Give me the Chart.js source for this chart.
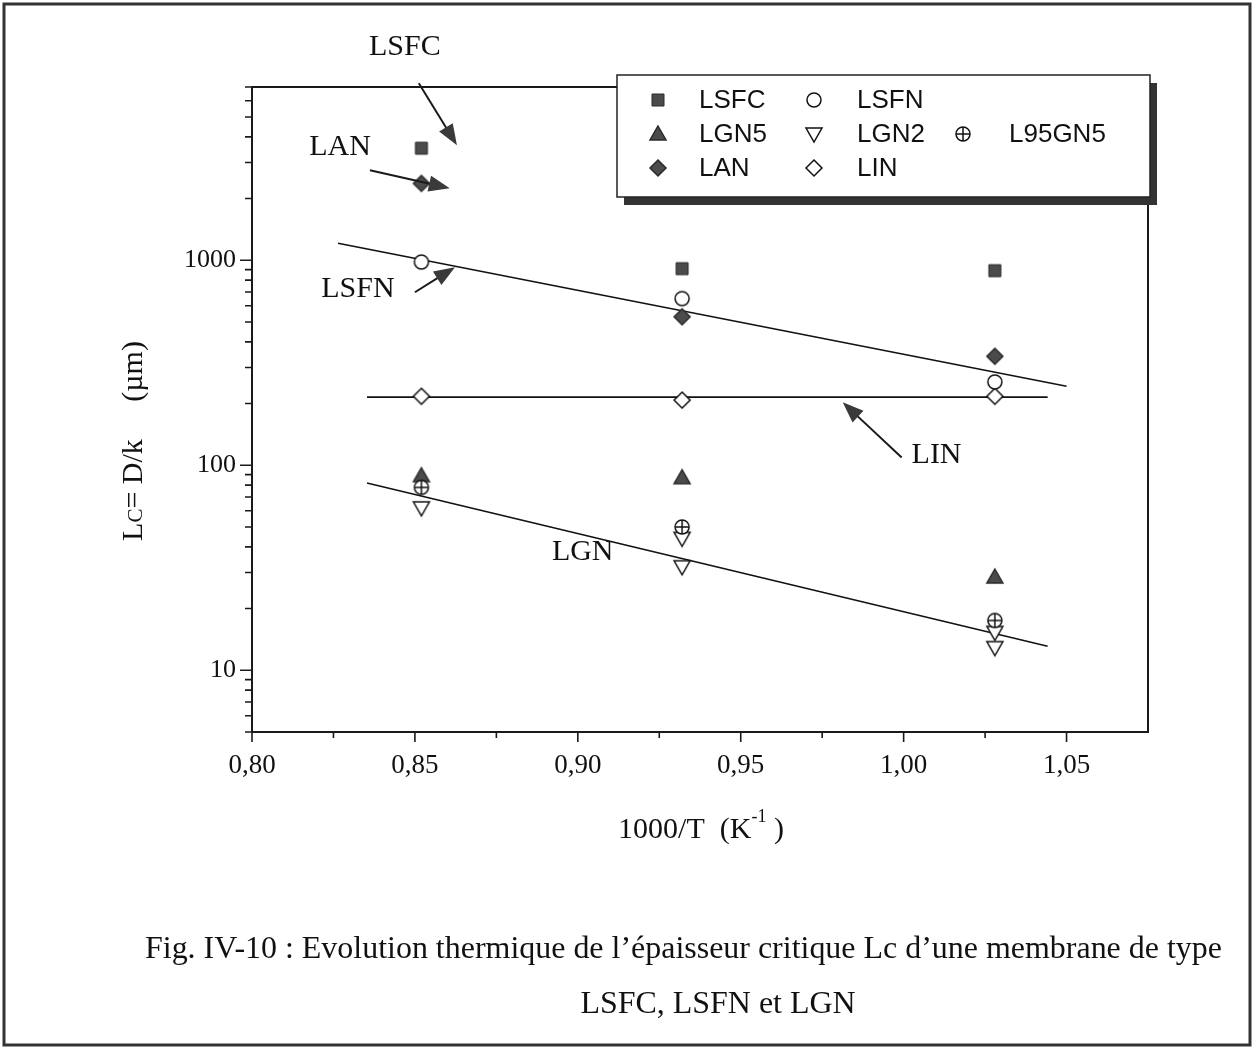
<!DOCTYPE html>
<html><head><meta charset="utf-8">
<script src="https://cdn.jsdelivr.net/npm/chart.js@4.4.1/dist/chart.umd.min.js"></script>
<style>html,body{margin:0;padding:0;background:#fff;}canvas{display:block}</style>
</head><body>
<canvas id="c" width="1254" height="1049"></canvas>
<script>
// ---- data ----
const xTemps = [0.852, 0.932, 1.028];
const lsfcVals = [3520, 910, 890];
const lsfnVals = [980, 650, 255];
const lanVals = [2370, 530, 340];
const linVals = [217, 208, 217];
const lgn5Vals = [89, 87, 28.5];
const l95gn5Vals = [78, 50, 17.5];
const lgn2X = [0.852, 0.932, 0.932, 1.028, 1.028];
const lgn2Vals = [62, 44, 32, 15.3, 12.9];
const fitLsfnX = [0.8264, 1.05];
const fitLsfnY = [1210, 243];
const fitLinX = [0.8353, 1.0442];
const fitLinY = [215, 215];
const fitLgnX = [0.8353, 1.0442];
const fitLgnY = [82, 13.1];
const xTickVals = [0.80, 0.85, 0.90, 0.95, 1.00, 1.05];
const xMinorVals = [0.825, 0.875, 0.925, 0.975, 1.025];
const yLabelVals = [10, 100, 1000];
const yMinorVals = [5, 6, 7, 8, 9, 20, 30, 40, 50, 60, 70, 80, 90, 200, 300, 400, 500, 600, 700, 800, 900, 2000, 3000, 4000, 5000, 6000, 7000];
const annoTexts = ['LSFC', 'LAN', 'LSFN', 'LIN', 'LGN'];
const annoX = [0.8469, 0.8270, 0.8325, 1.0101, 0.9015];
const annoY = [11000, 3560, 722, 112, 37.6];
const arrowFromX = [0.8512, 0.8362, 0.8500, 0.9994];
const arrowFromY = [7300, 2748, 698, 109];
const arrowToX = [0.8629, 0.8607, 0.8623, 0.9813];
const arrowToY = [3640, 2244, 925, 203];

// ---- marker images ----
function makeMarker(kind){
  const c = document.createElement('canvas'); c.width = 22; c.height = 22;
  const g = c.getContext('2d'); const m = 11;
  const dark = '#4b4b4b';
  g.lineWidth = 1.5; g.strokeStyle = '#111'; g.fillStyle = '#fff';
  g.beginPath();
  if (kind === 'square') { g.rect(m-6, m-6, 12, 12); g.fillStyle = dark; g.fill(); g.strokeStyle = '#2a2a2a'; g.lineWidth = 1; g.stroke(); }
  else if (kind === 'circle') { g.arc(m, m, 7, 0, 2*Math.PI); g.fill(); g.stroke(); }
  else if (kind === 'triUp') { g.moveTo(m, m-8); g.lineTo(m+8, m+6); g.lineTo(m-8, m+6); g.closePath(); g.fillStyle = dark; g.fill(); g.strokeStyle = '#2a2a2a'; g.stroke(); }
  else if (kind === 'triDown') { g.moveTo(m-8, m-6); g.lineTo(m+8, m-6); g.lineTo(m, m+8); g.closePath(); g.fill(); g.stroke(); }
  else if (kind === 'oplus') { g.arc(m, m, 7, 0, 2*Math.PI); g.fill(); g.stroke(); g.beginPath(); g.moveTo(m-7, m); g.lineTo(m+7, m); g.moveTo(m, m-7); g.lineTo(m, m+7); g.stroke(); }
  else if (kind === 'diamond' || kind === 'diamondOpen') {
    g.moveTo(m, m-8); g.lineTo(m+8, m); g.lineTo(m, m+8); g.lineTo(m-8, m); g.closePath();
    if (kind === 'diamond') { g.fillStyle = dark; g.strokeStyle = '#2a2a2a'; }
    g.fill(); g.stroke();
  }
  return c;
}
const mk = {};
['square','circle','triUp','triDown','oplus','diamond','diamondOpen'].forEach(k => mk[k] = makeMarker(k));

function pts(xs, ys){ return xs.map((x, i) => ({x: x, y: ys[i]})); }
function scatterSet(label, xs, ys, marker, order, legendPos){
  return {label, data: pts(xs, ys), pointStyle: mk[marker], pointRadius: 8, showLine: false, order, legendPos};
}
function fitSet(xs, ys){
  return {label: '', data: pts(xs, ys), showLine: true, pointRadius: 0, borderColor: '#111', borderWidth: 1.6, order: 50, isFit: true};
}

const datasets = [
  fitSet(fitLsfnX, fitLsfnY),
  fitSet(fitLinX, fitLinY),
  fitSet(fitLgnX, fitLgnY),
  scatterSet('LSFC', xTemps, lsfcVals, 'square', 5, [0,0]),
  scatterSet('LSFN', xTemps, lsfnVals, 'circle', 1, [1,0]),
  scatterSet('LGN5', xTemps, lgn5Vals, 'triUp', 4, [0,1]),
  scatterSet('LGN2', lgn2X, lgn2Vals, 'triDown', 3, [1,1]),
  scatterSet('L95GN5', xTemps, l95gn5Vals, 'oplus', 2, [2,1]),
  scatterSet('LAN', xTemps, lanVals, 'diamond', 6, [0,2]),
  scatterSet('LIN', xTemps, linVals, 'diamondOpen', 2, [1,2])
];

const SERIF = '"Liberation Serif", "Times New Roman", serif';
const SANS = '"Liberation Sans", Arial, sans-serif';

function arrow(ctx, x1, y1, x2, y2){
  const a = Math.atan2(y2-y1, x2-x1), L = 21, W = 8;
  const bx = x2 - L*Math.cos(a), by = y2 - L*Math.sin(a);
  ctx.strokeStyle = '#1a1a1a'; ctx.lineWidth = 2;
  ctx.beginPath(); ctx.moveTo(x1, y1); ctx.lineTo(bx + 4*Math.cos(a), by + 4*Math.sin(a)); ctx.stroke();
  ctx.fillStyle = '#3a3a3a';
  ctx.beginPath(); ctx.moveTo(x2, y2);
  ctx.lineTo(bx + W*Math.sin(a), by - W*Math.cos(a));
  ctx.lineTo(bx - W*Math.sin(a), by + W*Math.cos(a));
  ctx.closePath(); ctx.fill();
}

const framePlugin = {
  id: 'frame',
  beforeDatasetsDraw(chart){
    const {ctx, chartArea: a, scales: {x, y}} = chart;
    ctx.save();
    ctx.strokeStyle = '#1a1a1a'; ctx.lineWidth = 2;
    ctx.strokeRect(a.left, a.top, a.right - a.left, a.bottom - a.top);
    ctx.beginPath();
    xTickVals.forEach(v => { const p = x.getPixelForValue(v); ctx.moveTo(p, a.bottom); ctx.lineTo(p, a.bottom + 10); });
    xMinorVals.forEach(v => { const p = x.getPixelForValue(v); ctx.moveTo(p, a.bottom); ctx.lineTo(p, a.bottom + 6); });
    yLabelVals.forEach(v => { const p = y.getPixelForValue(v); ctx.moveTo(a.left - 12, p); ctx.lineTo(a.left, p); });
    yMinorVals.forEach(v => { const p = y.getPixelForValue(v); ctx.moveTo(a.left - 7, p); ctx.lineTo(a.left, p); });
    ctx.lineWidth = 1.6; ctx.stroke();
    ctx.restore();
  },
  afterDraw(chart){
    const {ctx, scales: {x, y}} = chart;
    ctx.save();
    // annotations
    ctx.fillStyle = '#111'; ctx.font = '30px ' + SERIF; ctx.textAlign = 'center'; ctx.textBaseline = 'middle';
    annoTexts.forEach((t, i) => ctx.fillText(t, x.getPixelForValue(annoX[i]), y.getPixelForValue(annoY[i])));
    arrowFromX.forEach((v, i) => arrow(ctx, x.getPixelForValue(v), y.getPixelForValue(arrowFromY[i]), x.getPixelForValue(arrowToX[i]), y.getPixelForValue(arrowToY[i])));

    // legend box
    const bx = 617, by = 75, bw = 533, bh = 122;
    ctx.fillStyle = '#333'; ctx.fillRect(bx + 7, by + 8, bw, bh);
    ctx.fillStyle = '#fff'; ctx.fillRect(bx, by, bw, bh);
    ctx.strokeStyle = '#222'; ctx.lineWidth = 1.5; ctx.strokeRect(bx, by, bw, bh);
    const colM = [658, 814, 963], colT = [699, 857, 1009], rowY = [100, 134, 168];
    ctx.font = '26px ' + SANS; ctx.textAlign = 'left'; ctx.fillStyle = '#111';
    chart.data.datasets.forEach(ds => {
      if (!ds.legendPos) return;
      const [c, r] = ds.legendPos;
      const img = ds.pointStyle;
      ctx.drawImage(img, colM[c] - img.width/2, rowY[r] - img.height/2);
      ctx.fillText(ds.label, colT[c], rowY[r] + 1);
    });

    // y title
    ctx.save();
    ctx.translate(132, 441); ctx.rotate(-Math.PI/2);
    const parts = [['L', 30], ['C', 21], ['= D/k     (\u00b5m)', 30]];
    let tot = 0;
    parts.forEach(p => { ctx.font = p[1] + 'px ' + SERIF; tot += ctx.measureText(p[0]).width; });
    let px = -tot/2; ctx.textBaseline = 'alphabetic';
    parts.forEach(p => { ctx.font = p[1] + 'px ' + SERIF; ctx.fillText(p[0], px, 10); px += ctx.measureText(p[0]).width; });
    ctx.restore();

    // x title
    const xp = [['1000/T  (K', 30, 0], ['-1', 18, -16], [' )', 30, 0]];
    tot = 0;
    xp.forEach(p => { ctx.font = p[1] + 'px ' + SERIF; tot += ctx.measureText(p[0]).width; });
    px = 701 - tot/2; ctx.textBaseline = 'alphabetic';
    xp.forEach(p => { ctx.font = p[1] + 'px ' + SERIF; ctx.fillText(p[0], px, 838 + p[2]); px += ctx.measureText(p[0]).width; });

    // caption
    const cap1 = 'Fig. IV-10 : Evolution thermique de l\u2019\u00e9paisseur critique Lc d\u2019une membrane de type';
    const cap2 = 'LSFC, LSFN et LGN';
    ctx.font = '26px ' + SERIF;
    const w1 = ctx.measureText(cap1).width;
    const fs = 26 * 1077 / w1;
    ctx.font = fs.toFixed(2) + 'px ' + SERIF;
    ctx.textAlign = 'left'; ctx.textBaseline = 'middle';
    ctx.fillText(cap1, 145, 950);
    ctx.textAlign = 'center';
    ctx.fillText(cap2, 718, 1005);

    // outer frame
    ctx.strokeStyle = '#333'; ctx.lineWidth = 3;
    ctx.strokeRect(4, 4, 1246, 1041);
    ctx.restore();
  }
};

new Chart(document.getElementById('c').getContext('2d'), {
  type: 'scatter',
  data: {datasets},
  options: {
    responsive: false, animation: false, devicePixelRatio: 1,
    layout: {padding: {left: 132, right: 106, top: 87, bottom: 257}},
    plugins: {legend: {display: false}, tooltip: {enabled: false}},
    scales: {
      x: {
        type: 'linear', min: 0.80, max: 1.075,
        afterBuildTicks: s => { s.ticks = xTickVals.map(v => ({value: v})); },
        afterFit: s => { s.height = 60; },
        ticks: {callback: v => Number(v).toFixed(2).replace('.', ','), font: {family: SERIF, size: 27}, color: '#111', padding: 18, maxRotation: 0, autoSkip: false},
        grid: {display: false, drawTicks: false}, border: {display: false}
      },
      y: {
        type: 'logarithmic', min: 5, max: 7000,
        afterBuildTicks: s => { s.ticks = yLabelVals.map(v => ({value: v})); },
        afterFit: s => { s.width = 120; },
        ticks: {callback: v => String(v), font: {family: SERIF, size: 26}, color: '#111', padding: 16, autoSkip: false},
        grid: {display: false, drawTicks: false}, border: {display: false}
      }
    }
  },
  plugins: [framePlugin]
});
</script>
</body></html>
